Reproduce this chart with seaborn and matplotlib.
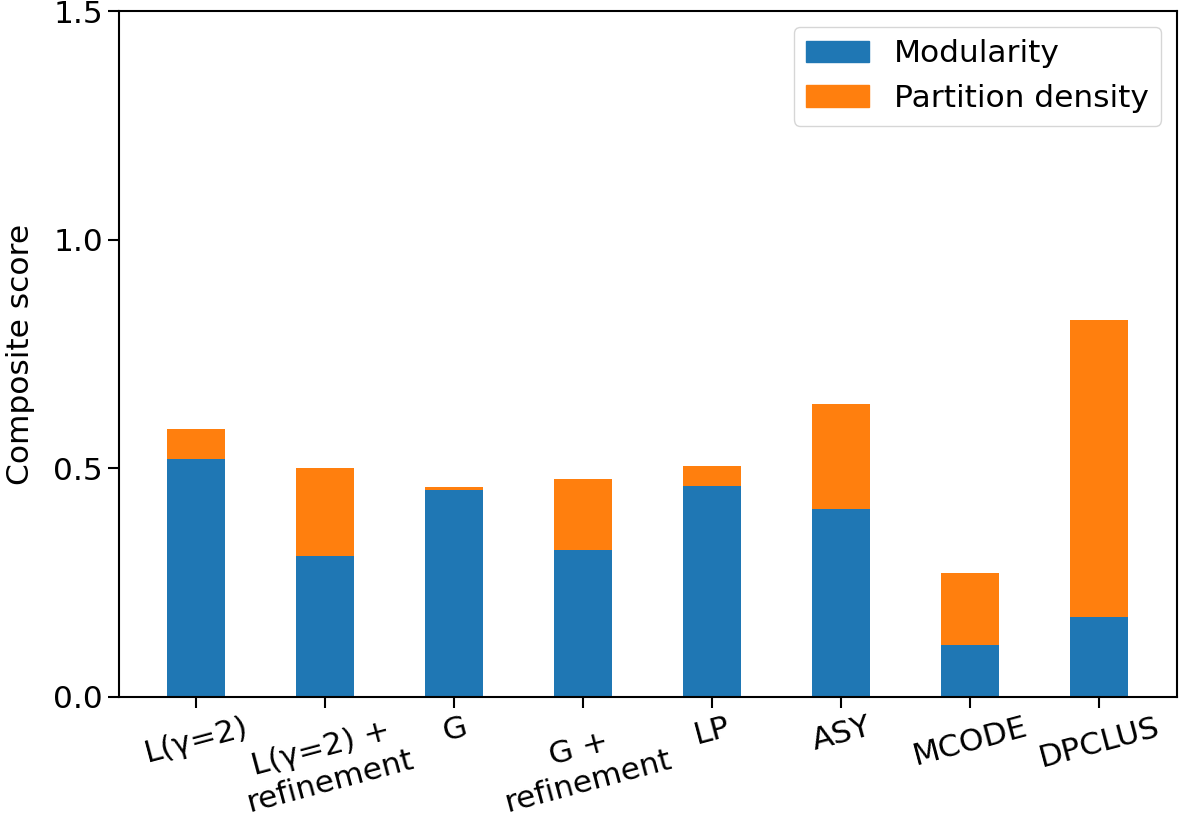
import numpy as np
import pandas as pd
import matplotlib
matplotlib.use("Agg")
import matplotlib.pyplot as plt
import seaborn as sns
from matplotlib.patches import Patch

methods = ["L(γ=2)", "L(γ=2) +\nrefinement", "G", "G +\nrefinement",
           "LP", "ASY", "MCODE", "DPCLUS"]
modularity = [0.521, 0.308, 0.452, 0.322, 0.462, 0.411, 0.113, 0.175]
partition_density = [0.065, 0.193, 0.006, 0.155, 0.043, 0.230, 0.158, 0.649]

df = pd.DataFrame({
    "method": methods,
    "Modularity": modularity,
    "Partition density": partition_density,
})
df["total"] = df["Modularity"] + df["Partition density"]

blue = "#1f77b4"
orange = "#ff7f0e"

sns.set_style("ticks")
plt.rcParams["font.family"] = ["DejaVu Sans"]
plt.rcParams.update({
    "text.color": "black",
    "axes.labelcolor": "black",
    "xtick.color": "black",
    "ytick.color": "black",
})
fs = 22.5

fig, ax = plt.subplots(figsize=(11.81, 8.27), dpi=100)
fig.subplots_adjust(left=0.1008, right=0.9963, top=0.9863, bottom=0.1576)

# stacked look: total in orange, modularity drawn over it in blue
sns.barplot(data=df, x="method", y="total", color=orange, saturation=1,
            width=0.45, ax=ax, linewidth=0)
sns.barplot(data=df, x="method", y="Modularity", color=blue, saturation=1,
            width=0.45, ax=ax, linewidth=0)

ax.set_xlim(-0.6, len(methods) - 0.4)
ax.set_ylim(0, 1.5)
ax.set_yticks([0.0, 0.5, 1.0, 1.5])
ax.set_yticklabels(["0.0", "0.5", "1.0", "1.5"], fontsize=fs)
ax.set_xticks(range(len(methods)))
ax.set_xticklabels(methods, rotation=15, fontsize=fs, ha="center")
ax.set_xlabel("")
ax.set_ylabel("Composite score", fontsize=fs, labelpad=13)

for s in ax.spines.values():
    s.set_visible(True)
    s.set_linewidth(1.5)
    s.set_color("black")
ax.tick_params(direction="out", length=8, width=1.5, color="black",
               labelcolor="black")

handles = [Patch(color=blue, label="Modularity"),
           Patch(color=orange, label="Partition density")]
ax.legend(handles=handles, loc="upper right", fontsize=fs, frameon=True)

fig.savefig("out.png", dpi=100)
